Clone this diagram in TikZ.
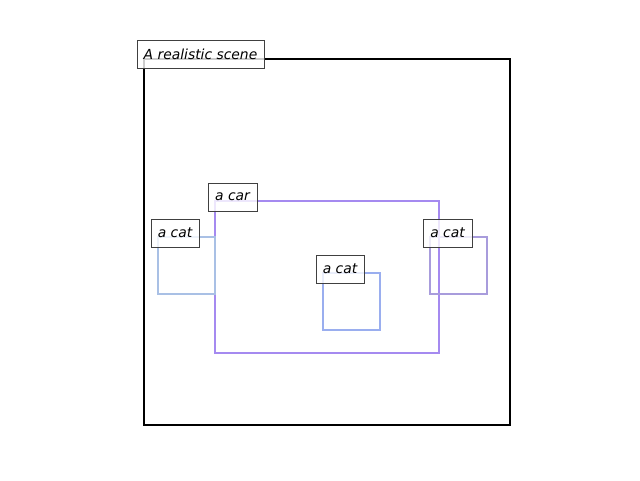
\documentclass[tikz,border=0pt]{standalone}
\usepackage{fontspec}
\setmainfont{DejaVu Sans}
\definecolor{carcol}{HTML}{A58AF0}
\definecolor{catA}{HTML}{A9C0E5}
\definecolor{catB}{HTML}{9AAEEF}
\definecolor{catC}{HTML}{A89CDC}
\definecolor{edgegray}{HTML}{404040}
\begin{document}
\begin{tikzpicture}[x=0.75pt,y=-0.75pt,
  boxline/.style={line width=1.5pt, line join=miter},
  lab/.style={draw=edgegray, line width=0.75pt, fill=white, fill opacity=0.8, text opacity=1,
    inner sep=0pt, minimum height=21pt, font=\fontsize{10.4pt}{12pt}\selectfont\itshape}]
\useasboundingbox (0,0) rectangle (640,480);
\draw[boxline, black] (144,59) rectangle (510,425);
\draw[boxline, carcol] (215,201) rectangle (439,353);
\draw[boxline, catA] (158,237) rectangle (215,294);
\draw[boxline, catB] (323,273) rectangle (380,330);
\draw[boxline, catC] (430,237) rectangle (487,294);
\node[lab, minimum width=95.25pt] (title) at (200.5,54) {A realistic scene};
\node[lab, minimum width=36.75pt] (car) at (232.5,197) {a car};
\node[lab, minimum width=36pt] (cat1) at (175,233) {a cat};
\node[lab, minimum width=36pt] (cat2) at (340,269) {a cat};
\node[lab, minimum width=36.75pt] (cat3) at (447.5,233) {a cat};
\end{tikzpicture}
\end{document}
